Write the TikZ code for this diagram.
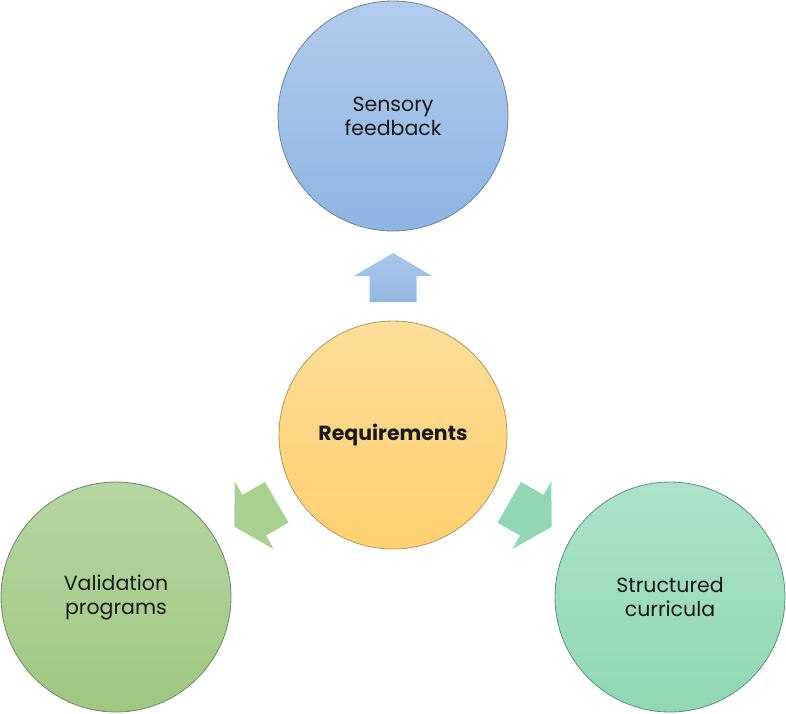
\documentclass[tikz,border=0pt]{standalone}
\usepackage{fontspec}
\setmainfont{Poppins}
\begin{document}
\begin{tikzpicture}[x=1pt,y=-1pt,
  bubble/.style={circle, minimum size=230pt, inner sep=0pt, line width=0.8pt,
    align=center, font=\fontsize{20.5}{24}\selectfont, text=black!90},
  blockarrow/.style={draw=none},
]
\definecolor{bluetop}{RGB}{178,204,235}
\definecolor{bluebot}{RGB}{142,180,227}
\definecolor{blueline}{RGB}{110,130,160}
\definecolor{orgtop}{RGB}{253,221,153}
\definecolor{orgbot}{RGB}{255,209,112}
\definecolor{orgline}{RGB}{185,150,95}
\definecolor{grntop}{RGB}{183,214,163}
\definecolor{grnbot}{RGB}{158,199,128}
\definecolor{grnline}{RGB}{110,135,100}
\definecolor{mnttop}{RGB}{172,226,202}
\definecolor{mntbot}{RGB}{144,215,180}
\definecolor{mntline}{RGB}{95,145,125}
\definecolor{arrblueT}{RGB}{170,198,234}
\definecolor{arrblueB}{RGB}{148,184,228}
\definecolor{arrgrn}{RGB}{168,208,143}
\definecolor{arrmnt}{RGB}{145,214,181}

\useasboundingbox (0,0) rectangle (786,713);

\node[bubble, top color=bluetop, bottom color=bluebot, draw=blueline] (top) at (393,116) {Sensory\\feedback};
\node[bubble, minimum size=228pt, top color=orgtop, bottom color=orgbot, draw=orgline,
      font=\fontsize{20.5}{24}\selectfont\bfseries] (req) at (393,435) {Requirements};
\node[bubble, top color=grntop, bottom color=grnbot, draw=grnline] (val) at (116,597) {Validation\\programs};
\node[bubble, top color=mnttop, bottom color=mntbot, draw=mntline] (cur) at (670,597) {Structured\\curricula};

\coordinate (aup) at (393,277.5);
\coordinate (aleft) at (255.5,514.5);
\coordinate (aright) at (530.5,514.5);

\begin{scope}[shift={(aup)}]
\path[blockarrow, top color=arrblueT, bottom color=arrblueB]
  (0,-24.5) -- (39,-1.5) -- (23.5,-1.5) -- (23.5,24.5) -- (-23.5,24.5) -- (-23.5,-1.5) -- (-39,-1.5) -- cycle;
\end{scope}
\begin{scope}[shift={(aleft)}, rotate=120]
\path[blockarrow, fill=arrgrn]
  (0,-24.5) -- (39,-1.5) -- (23.5,-1.5) -- (23.5,24.5) -- (-23.5,24.5) -- (-23.5,-1.5) -- (-39,-1.5) -- cycle;
\end{scope}
\begin{scope}[shift={(aright)}, rotate=-120]
\path[blockarrow, fill=arrmnt]
  (0,-24.5) -- (39,-1.5) -- (23.5,-1.5) -- (23.5,24.5) -- (-23.5,24.5) -- (-23.5,-1.5) -- (-39,-1.5) -- cycle;
\end{scope}
\end{tikzpicture}
\end{document}
